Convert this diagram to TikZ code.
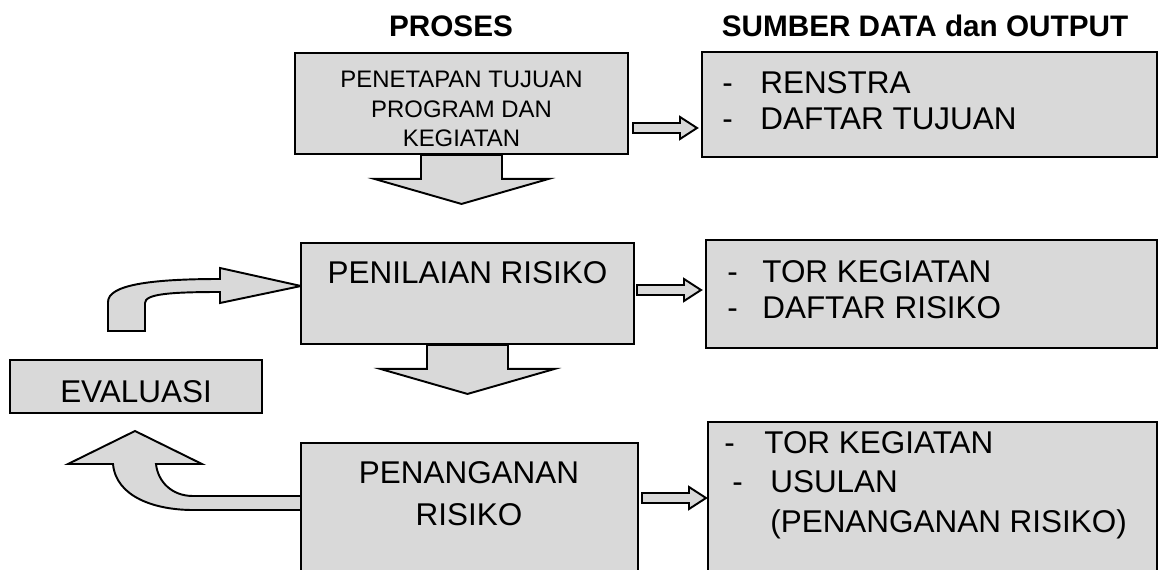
\documentclass[tikz,border=0pt]{standalone}
\usepackage{fontspec}
\setmainfont{Liberation Sans}
\definecolor{boxgray}{HTML}{D9D9D9}
\begin{document}
\begin{tikzpicture}[x=0.02cm, y=-0.02cm,
  box/.style={draw, line width=1.1pt, fill=boxgray, inner sep=0pt},
  blk/.style={draw, line width=1.1pt, fill=boxgray},
  ttl/.style={inner sep=0pt, font=\fontsize{16.9}{20}\selectfont\bfseries},
  big/.style={inner sep=0pt, font=\fontsize{17.9}{20.6}\selectfont},
  small/.style={inner sep=0pt, font=\fontsize{13.6}{17}\selectfont},
  rarr/.pic={\path[blk] (0,-5) -- (47,-5) -- (47,-11) -- (64,0) -- (47,11) -- (47,5) -- (0,5) -- cycle;},
  darr/.pic={\path[blk] (-40.5,0) -- (-40.5,24) -- (-87,24) -- (0,49) -- (87,24) -- (40.5,24) -- (40.5,0) -- cycle;}]
\useasboundingbox (0,0) rectangle (1158,570);
\clip (0,0) rectangle (1158,570);
% column heads
\node[ttl, anchor=base] (proses) at (451,37) {PROSES};
\node[ttl, anchor=base] (sumber) at (925,37) {SUMBER DATA dan OUTPUT};
% loop through evaluasi
\draw[blk] (108,331) -- (108,302) .. controls (108,285) and (150,279) .. (220,279) -- (220,268) -- (301,286) -- (220,303) -- (220,292) .. controls (170,292) and (145,294) .. (145,303) -- (145,331) -- cycle;
\draw[blk] (301,510) -- (193,510) .. controls (155,510) and (116,497) .. (113,464) -- (68,464) -- (135,431) -- (202,464) -- (156,464) .. controls (158,482) and (172,496) .. (193,496) -- (301,496) -- cycle;
% boxes
\node[box, minimum width=6.66cm, minimum height=2.02cm] (penetapan) at (461.5,103.5){};
\node[box, minimum width=9.10cm, minimum height=2.10cm] (renstra) at (929.5,104.5){};
\node[box, minimum width=6.66cm, minimum height=2.02cm] (penilaian) at (467.5,293.5){};
\node[box, minimum width=9.02cm, minimum height=2.16cm] (torkeg) at (931.5,294){};
\node[box, minimum width=5.04cm, minimum height=1.06cm] (evaluasi) at (136,386.5){};
\node[box, minimum width=6.74cm, minimum height=3.54cm] (penanganan) at (469.5,531.5){};
\node[box, minimum width=8.98cm, minimum height=3.96cm] (usulan) at (932.5,521){};
% arrows
\pic at (penetapan.south) {darr};
\pic at (penilaian.south) {darr};
\pic at (633,128) {rarr};
\pic at (637,290) {rarr};
\pic at (642,498) {rarr};
% texts (base = last line)
\node[small, anchor=base, align=center] (penetapantxt) at (461.5,147) {PENETAPAN TUJUAN\\PROGRAM DAN\\KEGIATAN};
\node[big, anchor=base west, align=left] (renstratxt) at (722,130) {\makebox[0.76cm][l]{-}RENSTRA\\\makebox[0.76cm][l]{-}DAFTAR TUJUAN};
\node[big, anchor=base] (penilaiantxt) at (467.5,284) {PENILAIAN RISIKO};
\node[big, anchor=base west, align=left] (torkegtxt) at (727,319) {\makebox[0.7cm][l]{-}TOR KEGIATAN\\\makebox[0.7cm][l]{-}DAFTAR RISIKO};
\node[big, anchor=base] (evaluasitxt) at (136,402) {EVALUASI};
\node[big, anchor=base, align=center, font=\fontsize{17.9}{23.8}\selectfont] (penanganantxt) at (469,525) {PENANGANAN\\RISIKO};
\node[big, anchor=base west, align=left, font=\fontsize{17.9}{22.3}\selectfont] (usulantxt) at (724,532) {\makebox[0.8cm][l]{-}TOR KEGIATAN\\\hspace{0.16cm}\makebox[0.76cm][l]{-}USULAN\\\hspace{0.92cm}(PENANGANAN RISIKO)};
\end{tikzpicture}
\end{document}
